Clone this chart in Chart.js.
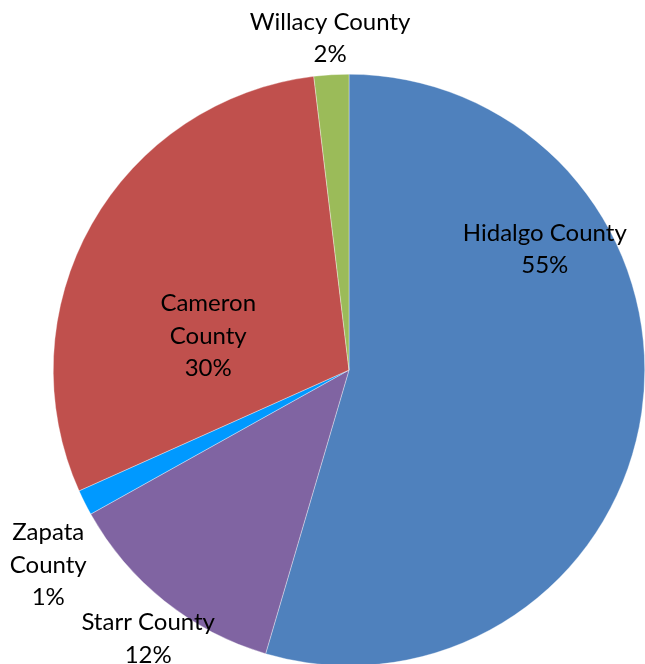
<!DOCTYPE html>
<html>
<head>
<meta charset="utf-8">
<script src="https://cdn.jsdelivr.net/npm/chart.js@4/dist/chart.umd.min.js"></script>
<style>
  html, body { margin: 0; padding: 0; background: #fff; overflow: hidden; }
  #wrap { width: 645px; height: 680px; }
</style>
</head>
<body>
<div id="wrap"><canvas id="pie-chart"></canvas></div>
<script>
const counties = ['Hidalgo County', 'Starr County', 'Zapata County', 'Cameron County', 'Willacy County'];
const shares = [54.55, 12.35, 1.4, 29.8, 1.9];
const sliceColors = ['#4F81BD', '#8064A2', '#0099FF', '#C0504D', '#9BBB59'];

// label block centres, as fractions of the radius from the pie centre
const labelLines = [
    ['Hidalgo County'],
    ['Starr County'],
    ['Zapata', 'County'],
    ['Cameron', 'County'],
    ['Willacy County']
];
const labelOffsets = [
    [0.662, -0.409],
    [-0.679, 0.909],
    [-1.017, 0.659],
    [-0.476, -0.115],
    [-0.064, -1.122]
];

const sliceLabels = {
    id: 'sliceLabels',
    afterDatasetsDraw(chart) {
        const ctx = chart.ctx;
        const meta = chart.getDatasetMeta(0);
        const total = shares.reduce((a, b) => a + b, 0);
        ctx.save();
        ctx.font = '24px Lato, "Open Sans", sans-serif';
        ctx.fillStyle = '#000';
        ctx.textAlign = 'center';
        ctx.textBaseline = 'middle';
        const lineH = 32.5;
        meta.data.forEach((arc, i) => {
            const r = arc.outerRadius;
            const cx = arc.x + labelOffsets[i][0] * r;
            const cy = arc.y + labelOffsets[i][1] * r;
            const lines = labelLines[i].concat([Math.round(shares[i] / total * 100) + '%']);
            const top = cy - (lines.length - 1) * lineH / 2;
            lines.forEach((t, j) => ctx.fillText(t, cx, top + j * lineH));
        });
        ctx.restore();
    }
};

new Chart(document.getElementById('pie-chart').getContext('2d'), {
    type: 'pie',
    data: {
        labels: counties,
        datasets: [{
            data: shares,
            backgroundColor: sliceColors,
            borderColor: 'rgba(255, 255, 255, 0.7)',
            borderWidth: 0.5
        }]
    },
    options: {
        responsive: true,
        maintainAspectRatio: false,
        animation: false,
        layout: { padding: { left: 53, right: 0, top: 74, bottom: 14 } },
        plugins: {
            legend: { display: false },
            tooltip: { enabled: false }
        }
    },
    plugins: [sliceLabels]
});
</script>
</body>
</html>
